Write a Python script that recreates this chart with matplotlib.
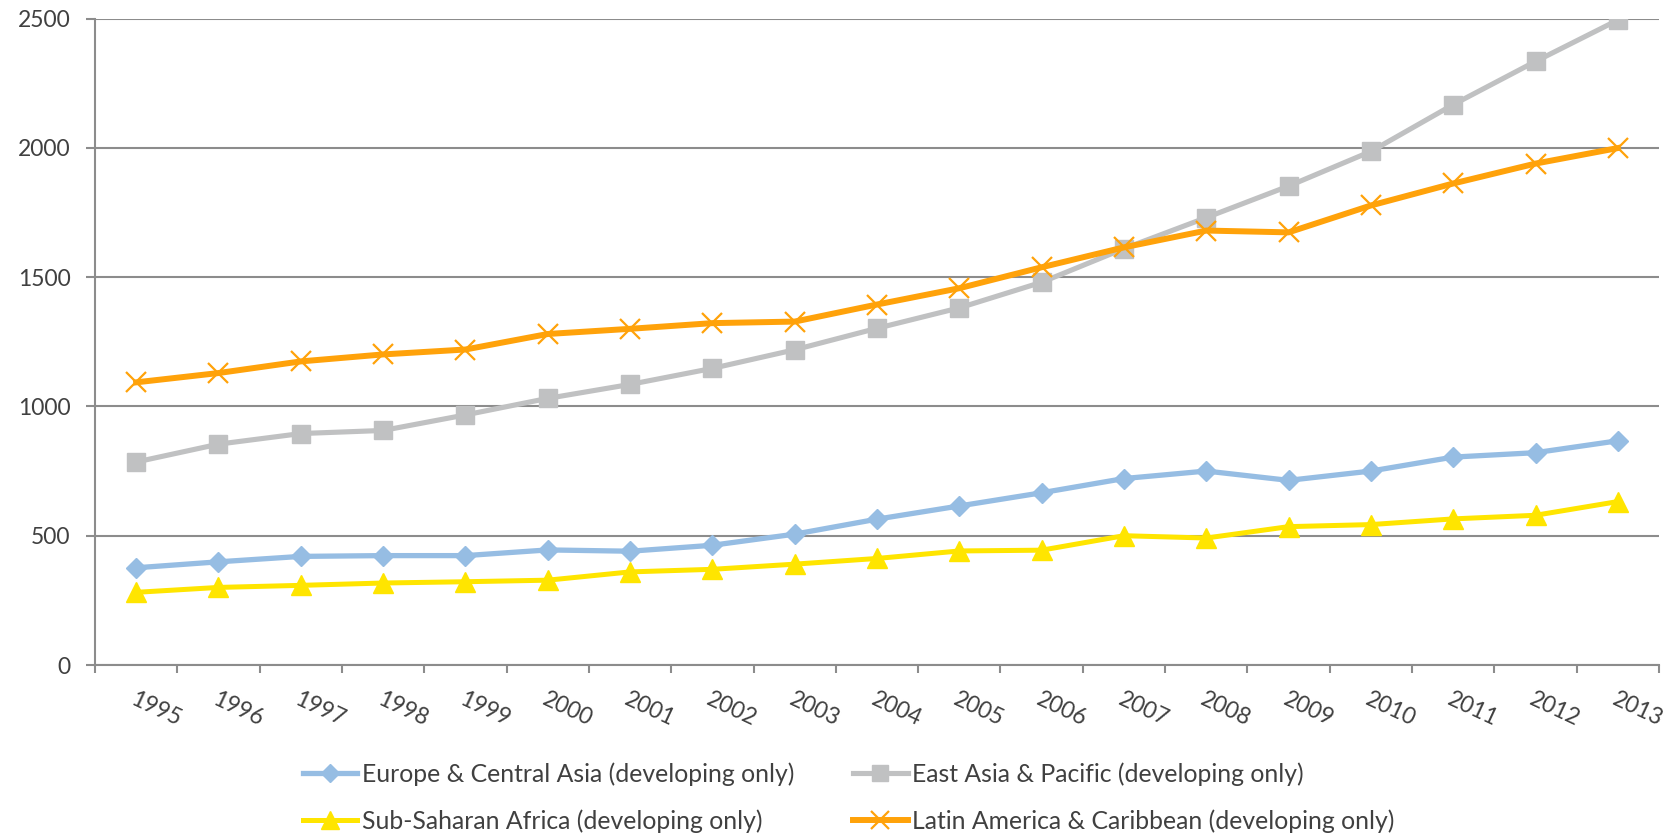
import matplotlib
matplotlib.use("Agg")
import matplotlib.pyplot as plt
import numpy as np

plt.rcParams['font.family'] = ['Lato', 'DejaVu Sans']

years = [str(y) for y in range(1995, 2014)]

europe_central_asia = [376, 399, 420, 423, 423, 445, 440, 463, 506, 564,
                       615, 666, 721, 750, 714, 750, 804, 821, 867]
east_asia_pacific = [785, 854, 895, 907, 967, 1031, 1085, 1147, 1219, 1302,
                     1381, 1480, 1610, 1730, 1852, 1986, 2167, 2334, 2494]
sub_saharan_africa = [281, 300, 308, 317, 322, 328, 360, 370, 390, 412,
                      441, 444, 500, 491, 535, 543, 565, 579, 632]
latin_america_caribbean = [1093, 1129, 1174, 1201, 1220, 1280, 1300, 1322, 1328, 1394,
                           1457, 1538, 1615, 1680, 1673, 1777, 1862, 1939, 1999]

series_labels = [
    "Europe & Central Asia (developing only)",
    "East Asia & Pacific (developing only)",
    "Sub-Saharan Africa (developing only)",
    "Latin America & Caribbean (developing only)",
]

y_ticks = [0, 500, 1000, 1500, 2000, 2500]

text_color = "#404040"
grid_color = "#8c8c8c"

fig = plt.figure(figsize=(16.7, 8.36), dpi=100)
ax = fig.add_axes([95 / 1670, (836 - 665) / 836, (1659 - 95) / 1670, (665 - 18.5) / 836])

x = np.arange(len(years))

l1, = ax.plot(x, europe_central_asia, color="#96bde3", lw=3.8, marker="D", ms=10,
              mec="#96bde3", mfc="#96bde3", zorder=3)
l2, = ax.plot(x, east_asia_pacific, color="#c0c1c2", lw=3.7, marker="s", ms=13.5,
              mec="#c0c1c2", mfc="#c0c1c2", zorder=3)
l3, = ax.plot(x, sub_saharan_africa, color="#ffe500", lw=3.6, marker="^", ms=14,
              mec="#ffe500", mfc="#ffe500", zorder=3)
l4, = ax.plot(x, latin_america_caribbean, color="#ffa20a", lw=4.3, marker="x", ms=14,
              mew=1.6, mec="#ffa20a", zorder=4)

ax.set_xlim(-0.5, len(years) - 0.5)
ax.set_ylim(0, 2500)

# horizontal gridlines
ax.set_yticks(y_ticks)
ax.yaxis.grid(True, color=grid_color, lw=1.5, zorder=0)
ax.set_axisbelow(True)
ax.tick_params(axis="y", length=6.5, width=1.5, color=grid_color, pad=11,
               labelsize=16.5, labelcolor=text_color)

# category boundaries carry the tick marks, centers carry the labels
ax.set_xticks(np.arange(-0.5, len(years), 1.0))
ax.set_xticklabels([])
ax.tick_params(axis="x", which="major", length=5.8, width=1.5, color=grid_color)
ax.set_xticks(x, minor=True)
ax.set_xticklabels(years, minor=True, rotation=-25, ha="left", va="top",
                   rotation_mode="anchor", fontsize=16.5, color=text_color)
ax.tick_params(axis="x", which="minor", length=0, pad=17)

for side in ["top", "right"]:
    ax.spines[side].set_visible(False)
for side in ["left", "bottom"]:
    ax.spines[side].set_color(grid_color)
    ax.spines[side].set_linewidth(1.5)

leg = fig.legend([l1, l3, l2, l4],
                 [series_labels[0], series_labels[2], series_labels[1], series_labels[3]],
                 ncol=2, loc="upper left", bbox_to_anchor=(303 / 1670, 1 - 762 / 836),
                 frameon=False, fontsize=17.8, labelcolor=text_color,
                 handlelength=2.2, handletextpad=0.17, columnspacing=2.4,
                 labelspacing=0.95, borderpad=0, borderaxespad=0)
for h in leg.legend_handles:
    h.set_markersize(h.get_markersize() * 0.9)

fig.savefig("out.png", dpi=100, facecolor="white")
